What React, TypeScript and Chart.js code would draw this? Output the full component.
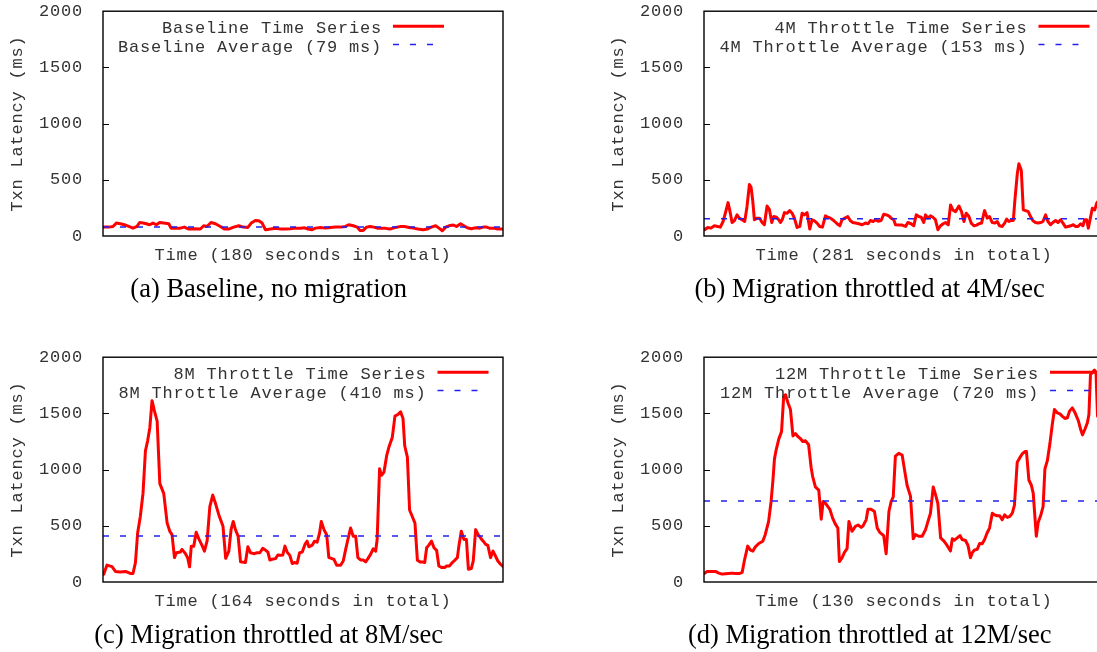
import React, { useEffect, useRef } from 'react';
import { Chart, registerables } from 'chart.js';

Chart.register(...registerables);

const MONO = '"Liberation Mono", "DejaVu Sans Mono", monospace';
const SERIF = '"Liberation Serif", "DejaVu Serif", serif';
const TEXT = '#333333';
const RED = '#ff0000';
const BLUE = '#2020f0';

// ---------- (a) Baseline ----------
const baselineSeconds = [0.3, 2.6, 4.5, 6.0, 7.8, 9.6, 11.6, 13.5, 15.3, 16.5, 18.0, 19.5, 21.0, 22.5, 24.0, 25.5, 27.3, 29.6, 30.6, 32.6, 34.8, 36.6, 38.6, 40.8, 43.8, 45.3, 46.8, 48.6, 50.6, 52.8, 54.6, 56.6, 58.8, 61.1, 63.1, 65.2, 66.7, 68.6, 70.1, 71.6, 73.1, 75.4, 77.6, 79.9, 82.1, 84.4, 86.6, 88.9, 90.7, 92.2, 94.1, 95.6, 97.9, 100.1, 102.4, 104.6, 106.9, 109.1, 110.6, 112.6, 114.4, 115.6, 117.1, 118.6, 120.1, 121.9, 123.7, 125.2, 127.2, 129.1, 130.6, 132.4, 133.9, 135.7, 137.7, 139.6, 141.7, 144.1, 145.9, 147.7, 149.7, 151.2, 152.7, 154.2, 155.7, 157.6, 159.1, 160.9, 162.4, 163.9, 165.7, 167.7, 169.6, 171.1, 172.6, 174.2, 175.9, 177.5, 179.7];
const baselineLatency = [79, 79, 85, 115, 109, 100, 85, 70, 85, 120, 115, 109, 100, 115, 100, 120, 115, 109, 70, 70, 70, 79, 62, 65, 62, 91, 85, 120, 109, 85, 62, 62, 79, 91, 79, 76, 115, 138, 135, 115, 56, 62, 68, 62, 62, 65, 70, 68, 73, 62, 56, 70, 76, 70, 76, 79, 79, 85, 100, 91, 79, 50, 50, 79, 85, 79, 68, 70, 68, 62, 70, 79, 85, 85, 76, 70, 62, 56, 62, 79, 91, 70, 47, 79, 91, 97, 85, 109, 91, 73, 65, 73, 70, 79, 79, 68, 70, 62, 62];

// ---------- (b) 4M throttle ----------
const throttle4Seconds = [0.5, 2.6, 4.9, 7.3, 9.6, 11.5, 13.4, 15.0, 16.9, 18.5, 19.7, 21.3, 23.2, 24.8, 26.7, 28.6, 30.2, 31.9, 33.0, 34.2, 35.4, 37.3, 39.1, 40.8, 42.4, 44.3, 45.9, 47.6, 49.0, 50.9, 52.5, 53.7, 55.1, 56.5, 58.4, 60.2, 61.9, 63.5, 65.4, 67.3, 68.9, 70.5, 72.4, 74.3, 75.9, 77.6, 79.4, 81.3, 83.2, 85.3, 86.9, 88.8, 91.1, 93.5, 95.4, 97.0, 98.9, 101.0, 102.9, 104.5, 106.4, 108.7, 111.1, 113.4, 115.3, 116.9, 118.8, 120.7, 122.3, 124.4, 126.3, 128.2, 129.8, 131.5, 133.3, 134.5, 136.9, 139.2, 141.6, 143.2, 145.5, 147.4, 149.1, 150.9, 152.6, 154.4, 155.6, 157.3, 159.1, 160.8, 162.6, 164.3, 166.2, 168.0, 169.7, 171.6, 173.2, 174.8, 176.7, 179.1, 180.9, 182.6, 184.2, 186.1, 187.7, 189.6, 191.5, 193.1, 195.0, 197.1, 199.0, 200.6, 202.5, 204.4, 206.0, 207.6, 209.5, 211.2, 212.6, 214.2, 215.8, 217.3, 218.4, 220.1, 221.2, 222.9, 224.3, 225.9, 227.8, 229.4, 231.1, 232.9, 234.8, 236.5, 238.1, 240.0, 241.6, 243.5, 245.1, 247.0, 248.7, 250.5, 252.2, 254.0, 255.7, 257.6, 259.4, 261.1, 262.7, 264.6, 266.2, 267.4, 268.8, 270.0, 271.2, 272.8, 274.5, 275.8, 276.5, 279.0, 281.0];
const throttle4Latency = [56, 76, 70, 91, 85, 79, 129, 203, 297, 203, 120, 135, 188, 159, 144, 129, 261, 458, 438, 320, 144, 159, 159, 120, 100, 267, 238, 120, 173, 167, 144, 120, 150, 208, 203, 226, 203, 159, 76, 85, 203, 188, 208, 62, 144, 135, 115, 85, 79, 179, 167, 159, 138, 109, 91, 144, 159, 173, 135, 120, 115, 109, 100, 115, 109, 138, 129, 144, 132, 138, 194, 188, 179, 159, 144, 100, 97, 97, 85, 120, 109, 91, 188, 173, 167, 120, 188, 159, 179, 167, 144, 56, 91, 109, 120, 100, 276, 232, 217, 267, 217, 129, 203, 173, 115, 91, 97, 109, 115, 226, 159, 173, 120, 115, 129, 91, 85, 115, 150, 129, 138, 138, 320, 555, 643, 584, 232, 226, 217, 173, 135, 120, 115, 120, 129, 188, 129, 100, 120, 138, 120, 144, 115, 79, 85, 91, 100, 85, 85, 109, 91, 144, 144, 70, 144, 247, 232, 291, 305, 310, 290];

// ---------- (c) 8M throttle ----------
const throttle8Seconds = [0.3, 1.6, 3.7, 5.1, 7.1, 9.2, 11.2, 12.3, 13.3, 14.2, 15.3, 16.4, 17.4, 18.3, 19.2, 20.1, 21.1, 22.2, 23.3, 24.9, 26.3, 27.4, 28.3, 29.3, 30.1, 31.7, 32.4, 33.8, 34.7, 35.5, 36.2, 37.2, 38.2, 39.3, 40.6, 41.6, 42.7, 43.8, 45.0, 46.1, 47.5, 49.2, 50.3, 51.6, 52.5, 53.4, 54.3, 55.4, 56.4, 58.4, 59.4, 60.5, 61.8, 63.2, 64.3, 65.5, 66.6, 67.6, 68.4, 69.4, 70.7, 71.7, 72.8, 73.7, 74.6, 75.5, 76.6, 77.6, 78.5, 79.6, 80.6, 81.7, 82.8, 83.7, 84.4, 85.8, 86.7, 87.8, 88.8, 89.5, 90.6, 91.7, 92.6, 93.6, 94.7, 95.8, 97.4, 98.5, 99.5, 100.4, 101.5, 102.6, 103.6, 104.5, 105.6, 106.7, 107.7, 108.6, 109.7, 110.8, 111.8, 112.4, 113.4, 114.2, 115.2, 116.3, 117.2, 118.6, 119.7, 120.9, 122.0, 123.0, 123.7, 124.8, 125.7, 126.8, 127.9, 128.9, 130.0, 130.9, 131.9, 132.7, 133.6, 134.7, 135.7, 136.8, 137.7, 138.8, 140.1, 140.9, 142.1, 143.2, 144.2, 145.3, 145.9, 146.9, 148.0, 149.0, 149.8, 151.0, 151.8, 152.8, 153.8, 154.8, 155.9, 156.9, 157.8, 158.9, 159.9, 160.9, 161.9, 163.0, 164.0];
const throttle8Latency = [70, 150, 137, 94, 90, 94, 76, 76, 173, 436, 583, 788, 1168, 1256, 1373, 1613, 1520, 1432, 875, 788, 524, 451, 421, 217, 260, 266, 290, 252, 217, 135, 319, 319, 442, 384, 325, 275, 369, 670, 773, 700, 597, 495, 211, 275, 466, 539, 466, 407, 179, 173, 313, 260, 252, 260, 260, 299, 284, 266, 196, 202, 208, 240, 237, 240, 319, 266, 237, 164, 173, 167, 260, 266, 334, 363, 313, 328, 363, 354, 436, 539, 466, 421, 217, 211, 202, 149, 149, 187, 290, 378, 480, 407, 407, 217, 196, 196, 179, 208, 246, 296, 275, 378, 1007, 949, 978, 1124, 1198, 1285, 1476, 1490, 1514, 1455, 1212, 1110, 641, 583, 524, 193, 179, 179, 173, 305, 328, 363, 305, 281, 143, 129, 129, 143, 143, 173, 193, 217, 319, 451, 378, 378, 114, 120, 187, 466, 421, 392, 363, 334, 325, 217, 275, 231, 187, 158, 138];

// ---------- (d) 12M throttle ----------
const throttle12Seconds = [0.2, 1.0, 2.4, 3.7, 4.8, 5.9, 6.9, 8.0, 9.1, 10.2, 11.6, 12.4, 13.1, 14.2, 15.1, 15.9, 16.7, 17.8, 19.1, 19.9, 21.0, 21.8, 22.4, 22.9, 23.4, 24.3, 25.2, 25.9, 26.5, 27.3, 28.1, 28.9, 29.7, 30.5, 31.3, 32.1, 33.0, 34.0, 34.8, 35.3, 36.2, 37.3, 38.1, 38.7, 39.5, 40.9, 41.8, 42.7, 43.5, 44.0, 44.9, 45.6, 46.5, 47.1, 48.1, 49.2, 50.1, 51.1, 51.7, 52.7, 53.3, 54.3, 55.4, 56.3, 57.1, 58.4, 59.2, 60.1, 60.8, 61.5, 62.2, 63.3, 64.4, 65.2, 66.0, 67.1, 68.0, 68.7, 69.8, 70.9, 72.0, 72.7, 73.6, 74.5, 75.2, 76.0, 76.9, 78.0, 79.0, 80.1, 80.7, 81.4, 82.3, 83.2, 83.9, 85.0, 85.8, 86.6, 87.2, 87.9, 88.8, 89.6, 90.4, 91.2, 92.0, 92.8, 93.7, 94.4, 95.3, 96.1, 96.9, 97.7, 98.6, 99.4, 100.2, 100.9, 101.8, 102.6, 103.4, 104.3, 104.8, 105.6, 106.4, 107.0, 108.0, 108.6, 109.4, 110.2, 110.8, 111.6, 112.4, 113.2, 113.9, 114.8, 115.7, 116.4, 117.3, 118.1, 118.8, 119.7, 120.6, 121.7, 122.4, 123.0, 123.8, 124.6, 125.1, 125.6, 126.4, 126.9, 127.4, 127.9, 129.0, 130.0];
const throttle12Latency = [76, 94, 94, 94, 79, 70, 73, 76, 79, 76, 76, 85, 187, 319, 284, 275, 313, 343, 363, 421, 539, 714, 905, 1095, 1168, 1271, 1338, 1652, 1666, 1593, 1534, 1300, 1321, 1294, 1277, 1250, 1256, 1221, 1022, 940, 846, 817, 559, 714, 700, 647, 568, 515, 480, 182, 217, 261, 296, 539, 451, 495, 507, 486, 500, 553, 647, 647, 627, 480, 442, 413, 252, 627, 714, 758, 1119, 1145, 1130, 993, 861, 764, 384, 422, 407, 407, 466, 530, 612, 846, 782, 700, 392, 363, 325, 275, 384, 372, 392, 413, 378, 369, 325, 217, 261, 284, 290, 343, 340, 378, 436, 480, 612, 597, 589, 589, 553, 597, 574, 583, 612, 685, 1066, 1104, 1139, 1160, 1160, 905, 861, 788, 407, 530, 589, 671, 1007, 1081, 1227, 1403, 1534, 1505, 1496, 1476, 1455, 1461, 1520, 1549, 1505, 1432, 1359, 1309, 1359, 1417, 1490, 1842, 1871, 1886, 1865, 1476, 1420, 1450];

const yTickValues = [0, 500, 1000, 1500, 2000];
const yAxisTitle = 'Txn Latency (ms)';

interface PanelCfg {
  left: number;
  top: number;
  seconds: number[];
  latency: number[];
  total: number;
  average: number;
  seriesLabel: string;
  averageLabel: string;
  xTitle: string;
  caption: string;
  keyGap: number;
}

const panels: PanelCfg[] = [
  {
    left: 0, top: -11, seconds: baselineSeconds, latency: baselineLatency, total: 180, average: 79,
    seriesLabel: 'Baseline Time Series', averageLabel: 'Baseline Average (79 ms)',
    xTitle: 'Time (180 seconds in total)', caption: '(a) Baseline, no migration', keyGap: 59,
  },
  {
    left: 601, top: -11, seconds: throttle4Seconds, latency: throttle4Latency, total: 281, average: 153,
    seriesLabel: '4M Throttle Time Series', averageLabel: '4M Throttle Average (153 ms)',
    xTitle: 'Time (281 seconds in total)', caption: '(b) Migration throttled at 4M/sec', keyGap: 14.5,
  },
  {
    left: 0, top: 335, seconds: throttle8Seconds, latency: throttle8Latency, total: 164, average: 410,
    seriesLabel: '8M Throttle Time Series', averageLabel: '8M Throttle Average (410 ms)',
    xTitle: 'Time (164 seconds in total)', caption: '(c) Migration throttled at 8M/sec', keyGap: 14.5,
  },
  {
    left: 601, top: 335, seconds: throttle12Seconds, latency: throttle12Latency, total: 130, average: 720,
    seriesLabel: '12M Throttle Time Series', averageLabel: '12M Throttle Average (720 ms)',
    xTitle: 'Time (130 seconds in total)', caption: '(d) Migration throttled at 12M/sec', keyGap: 3,
  },
];

const CANVAS_W = 540;
const CANVAS_H = 330;
const MONO_SIZE = 17;
const SPACING = '0.8px';

function makeDecor(cfg: PanelCfg) {
  return {
    id: 'gnuplotDecor',
    beforeDraw(chart: any) {
      (chart.ctx as any).letterSpacing = SPACING;
    },
    afterDraw(chart: any) {
      const ctx = chart.ctx as CanvasRenderingContext2D & { letterSpacing: string };
      const a = chart.chartArea;
      const y = chart.scales.y;
      ctx.save();
      // frame
      ctx.setLineDash([]);
      ctx.strokeStyle = '#000';
      ctx.lineWidth = 1.4;
      ctx.strokeRect(a.left, a.top, a.right - a.left, a.bottom - a.top);
      // inward ticks on the left border
      ctx.lineWidth = 1;
      for (const tk of y.ticks) {
        if (tk.value <= 0 || tk.value >= 2000) continue;
        const py = Math.round(y.getPixelForValue(tk.value)) + 0.5;
        ctx.beginPath();
        ctx.moveTo(a.left, py);
        ctx.lineTo(a.left + 6, py);
        ctx.stroke();
      }
      // key (gnuplot style: right-aligned text, sample on the right)
      ctx.font = `${MONO_SIZE}px ${MONO}`;
      ctx.letterSpacing = SPACING;
      ctx.fillStyle = TEXT;
      ctx.textAlign = 'right';
      ctx.textBaseline = 'alphabetic';
      const sEnd = a.right - cfg.keyGap;
      const sStart = sEnd - 51;
      chart.data.datasets.forEach((ds: any, i: number) => {
        const ly = a.top + 15 + i * 18.4;
        ctx.strokeStyle = ds.borderColor;
        ctx.lineWidth = ds.borderWidth;
        ctx.setLineDash(ds.borderDash || []);
        ctx.beginPath();
        ctx.moveTo(sStart, ly);
        ctx.lineTo(sEnd, ly);
        ctx.stroke();
        ctx.fillText(ds.label, sStart - 11, a.top + 22 + i * 18.3);
      });
      // caption
      ctx.letterSpacing = '0px';
      ctx.font = `26.5px ${SERIF}`;
      ctx.fillStyle = '#000';
      ctx.textAlign = 'center';
      ctx.fillText(cfg.caption, a.left + 165.7, a.bottom + 60.5);
      ctx.restore();
    },
  };
}

function Panel({ cfg }: { cfg: PanelCfg }) {
  const ref = useRef<HTMLCanvasElement>(null);
  useEffect(() => {
    const canvas = ref.current;
    if (!canvas) return;
    const monoFont = { family: MONO, size: MONO_SIZE };
    const chart = new Chart(canvas, {
      type: 'line',
      data: {
        datasets: [
          {
            label: cfg.seriesLabel,
            data: cfg.seconds.map((s, i) => ({ x: s, y: cfg.latency[i] })),
            borderColor: RED,
            borderWidth: 3,
            pointRadius: 0,
            tension: 0,
            borderJoinStyle: 'round',
            borderCapStyle: 'round',
            order: 1,
          },
          {
            label: cfg.averageLabel,
            data: [{ x: 0, y: cfg.average }, { x: cfg.total, y: cfg.average }],
            borderColor: BLUE,
            borderWidth: 1.5,
            borderDash: [6, 11],
            pointRadius: 0,
            order: 0,
          },
        ],
      } as any,
      options: {
        animation: false,
        responsive: false,
        maintainAspectRatio: false,
        devicePixelRatio: 1,
        events: [],
        layout: { padding: { top: 20, right: CANVAS_W - 503, bottom: CANVAS_H - 20 - 227 - 40, left: 0 } },
        plugins: {
          legend: { display: false },
          tooltip: { enabled: false },
          title: { display: false },
        },
        scales: {
          x: {
            type: 'linear',
            min: 0,
            max: cfg.total,
            ticks: { display: false },
            grid: { display: false },
            border: { display: false },
            title: { display: true, text: cfg.xTitle, color: TEXT, font: monoFont, padding: { top: 0, bottom: 10 } },
            afterFit: (s: any) => { s.height = 40; },
          },
          y: {
            type: 'linear',
            min: 0,
            max: 2000,
            afterBuildTicks: (s: any) => { s.ticks = yTickValues.map((v) => ({ value: v })); },
            ticks: { color: TEXT, font: monoFont, padding: 12, callback: (v: any) => String(v) },
            grid: { display: false },
            border: { display: false },
            title: { display: true, text: yAxisTitle, color: TEXT, font: monoFont, padding: { top: 7, bottom: 0 } },
            afterFit: (s: any) => { s.width = 103; },
          },
        },
      } as any,
      plugins: [makeDecor(cfg)],
    });
    return () => chart.destroy();
  }, [cfg]);
  return (
    <div style={{ position: 'absolute', left: cfg.left, top: cfg.top, width: CANVAS_W, height: CANVAS_H }}>
      <canvas ref={ref} width={CANVAS_W} height={CANVAS_H} style={{ display: 'block', width: CANVAS_W, height: CANVAS_H }} />
    </div>
  );
}

export default function App() {
  return (
    <div style={{ position: 'fixed', left: 0, top: 0, width: 1097, height: 652, overflow: 'hidden', background: '#fff' }}>
      {panels.map((p, i) => (
        <Panel key={i} cfg={p} />
      ))}
    </div>
  );
}
